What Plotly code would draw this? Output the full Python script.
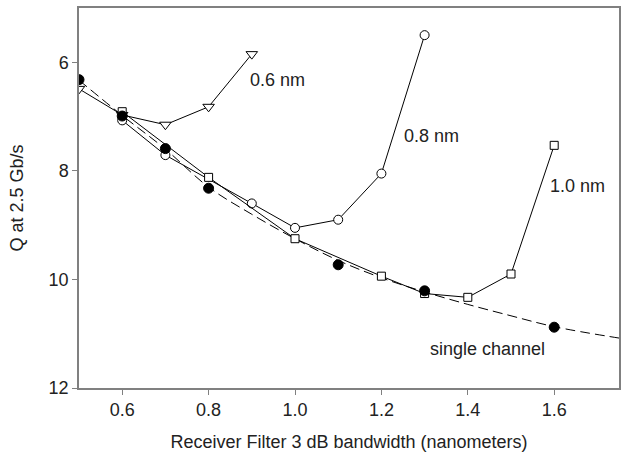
import plotly.graph_objects as go

# 0.6 nm channel spacing (open down-triangles)
x_06 = [0.5, 0.6, 0.7, 0.8, 0.9]
q_06 = [6.49, 6.97, 7.15, 6.82, 5.85]

# 0.8 nm channel spacing (open circles)
x_08 = [0.6, 0.7, 0.9, 1.0, 1.1, 1.2, 1.3]
q_08 = [7.07, 7.71, 8.6, 9.05, 8.9, 8.05, 5.5]

# 1.0 nm channel spacing (open squares)
x_10 = [0.6, 0.8, 1.0, 1.2, 1.3, 1.4, 1.5, 1.6]
q_10 = [6.91, 8.12, 9.25, 9.94, 10.26, 10.33, 9.9, 7.53]

# single channel (filled circles)
x_single = [0.5, 0.6, 0.7, 0.8, 1.1, 1.3, 1.6]
q_single = [6.32, 6.99, 7.59, 8.32, 9.73, 10.21, 10.88]

# single channel trend (dashed curve)
x_fit = [0.5, 0.6, 0.7, 0.8, 0.9, 1.0, 1.1, 1.2, 1.3, 1.4, 1.5, 1.6, 1.75]
q_fit = [6.33, 6.98, 7.6, 8.3, 8.8, 9.25, 9.65, 9.97, 10.23, 10.46, 10.67, 10.87, 11.08]

labels = [
    ("0.6 nm", 0.96, 6.33),
    ("0.8 nm", 1.315, 7.36),
    ("1.0 nm", 1.655, 8.27),
    ("single channel", 1.446, 11.28),
]

FONT = "Liberation Sans, Arial, sans-serif"
TXT = "#222222"

fig = go.Figure()
fig.add_trace(go.Scatter(x=x_fit, y=q_fit, mode="lines", line=dict(color="black", width=1, dash="10px,5px", shape="spline"), showlegend=False))
fig.add_trace(go.Scatter(x=x_06, y=q_06, mode="lines+markers", line=dict(color="black", width=1),
                         marker=dict(symbol="triangle-down", size=10, color="white", line=dict(color="black", width=1)), showlegend=False))
fig.add_trace(go.Scatter(x=x_08, y=q_08, mode="lines+markers", line=dict(color="black", width=1),
                         marker=dict(symbol="circle", size=9, color="white", line=dict(color="black", width=1)), showlegend=False))
fig.add_trace(go.Scatter(x=x_10, y=q_10, mode="lines+markers", line=dict(color="black", width=1),
                         marker=dict(symbol="square", size=8, color="white", line=dict(color="black", width=1)), showlegend=False))
fig.add_trace(go.Scatter(x=x_single, y=q_single, mode="markers",
                         marker=dict(symbol="circle", size=10, color="black", line=dict(color="black", width=1)), showlegend=False))

for text, x, y in labels:
    fig.add_annotation(x=x, y=y, text=text, showarrow=False, font=dict(family=FONT, size=18, color=TXT))

fig.update_layout(
    width=624, height=457,
    margin=dict(l=79, r=5, t=8, b=69),
    plot_bgcolor="white", paper_bgcolor="white",
    font=dict(family=FONT, size=18, color=TXT),
)
fig.update_xaxes(range=[0.5, 1.75], tickvals=[0.6, 0.8, 1.0, 1.2, 1.4, 1.6], ticktext=["0.6", "0.8", "1.0", "1.2", "1.4", "1.6"],
                 showgrid=False, zeroline=False, showline=True, linecolor="#808080", linewidth=1.5, mirror=True,
                 ticks="outside", ticklen=5, tickcolor="#808080", automargin=False,
                 title=dict(text="Receiver Filter 3 dB bandwidth (nanometers)", font=dict(size=18), standoff=16),
                 tickfont=dict(size=18))
fig.update_yaxes(range=[12, 5], tickvals=[6, 8, 10, 12], showgrid=False, zeroline=False, showline=True,
                 linecolor="#808080", linewidth=1.5, mirror=True, ticks="outside", ticklen=5, tickcolor="#808080",
                 automargin=False,
                 title=dict(text="Q at 2.5 Gb/s", font=dict(size=18), standoff=20), tickfont=dict(size=18))

fig.write_html("out.html", config={"displayModeBar": False},
               post_script="document.body.style.margin='0';document.body.style.overflow='hidden';")
